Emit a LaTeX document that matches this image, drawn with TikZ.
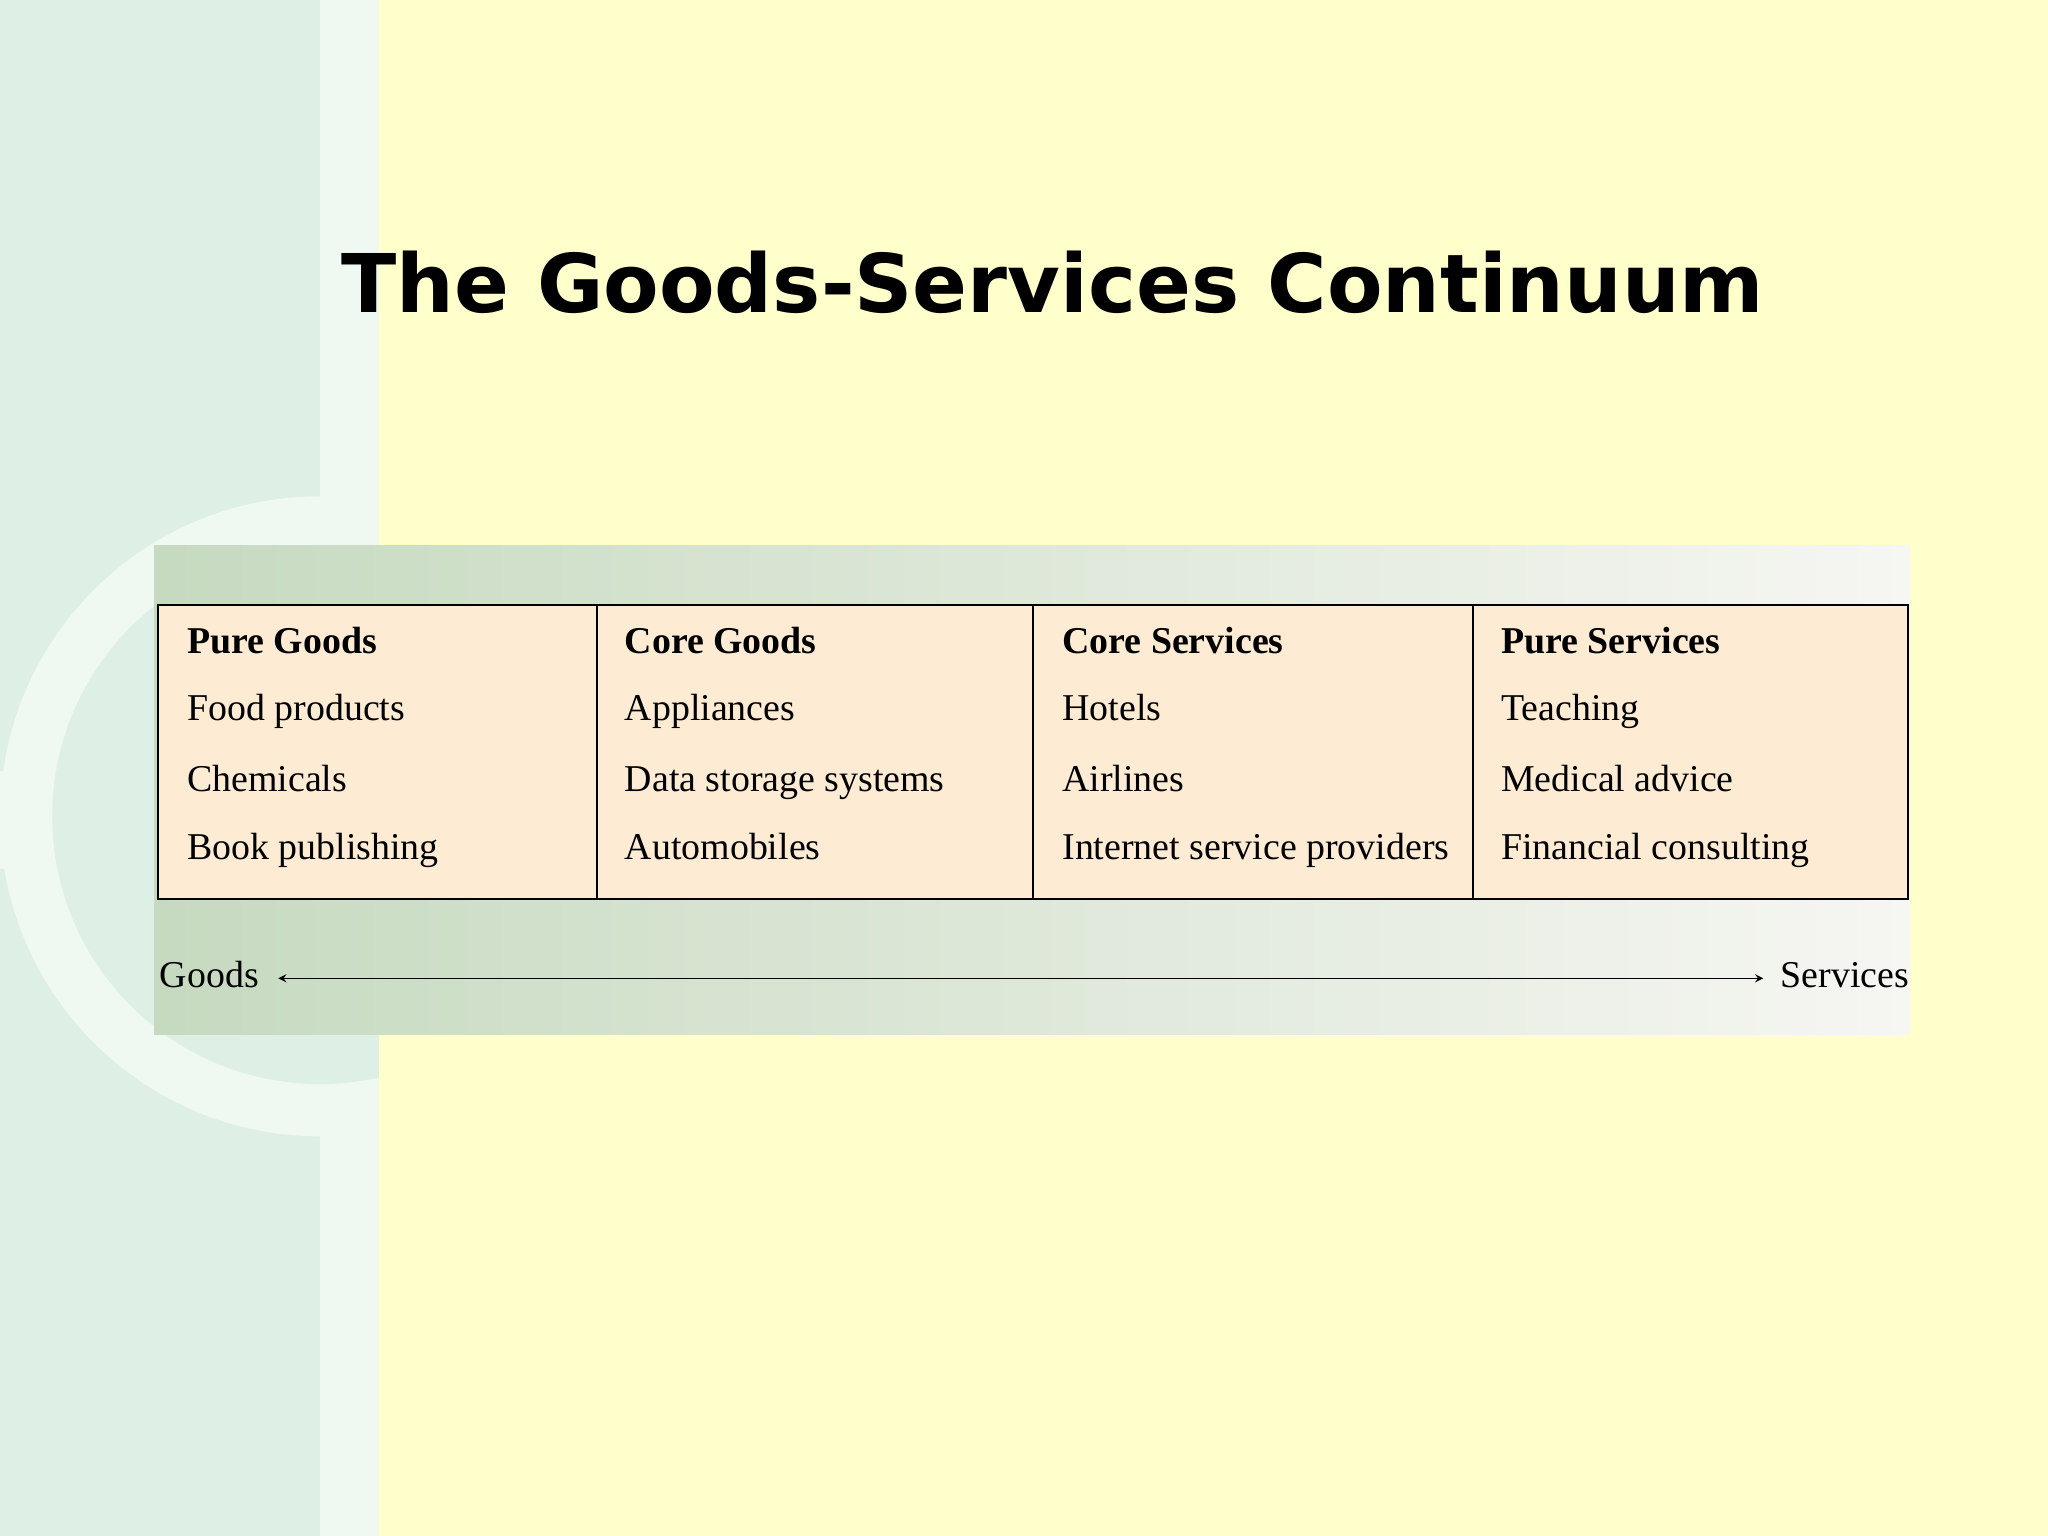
\documentclass[tikz,border=0pt]{standalone}
\usepackage{fontspec}
\setmainfont{Liberation Serif}
\newfontfamily\titlefont{DejaVu Sans}
\begin{document}
\begin{tikzpicture}[x=0.5pt,y=-0.5pt,
  cell/.style={anchor=base west,font=\fontsize{14.5}{16}\selectfont,inner sep=0pt},
  head/.style={cell,font=\fontsize{14.5}{16}\selectfont\bfseries}]
\definecolor{bgy}{HTML}{FFFFCC}
\definecolor{bgg}{HTML}{DEEFE6}
\definecolor{bgl}{HTML}{F0F8F2}
\definecolor{peach}{HTML}{FDEBD3}
\definecolor{panL}{HTML}{C6DAC0}
\definecolor{panR}{HTML}{F6F6F2}
\fill[bgy] (0,0) rectangle (1568,1176);
\fill[bgg] (0,0) rectangle (245,1176);
\fill[bgl] (245,0) rectangle (290,1176);
\begin{scope}
\clip (0,0) rectangle (290,1176);
\fill[bgl] (245,625) circle (245);
\fill[bgg] (245,625) circle (205);
\fill[bgl] (0,590) rectangle (40,665);
\end{scope}
\node[font=\titlefont\fontsize{31}{36}\selectfont\bfseries] (title) at (806,216) {The Goods-Services Continuum};
\shade[left color=panL,right color=panR] (118,418) rectangle (1462,792);
\draw[thick,fill=peach] (121,463) rectangle (1461,688);
\foreach \x in {457,791,1128} \draw[thick] (\x,463) -- (\x,688);
\node[head] (h1) at (143,500) {Pure Goods};
\node[cell] at (143,552) {Food products};
\node[cell] at (143,606) {Chemicals};
\node[cell] at (143,658) {Book publishing};
\node[head] (h2) at (478,500) {Core Goods};
\node[cell] at (478,552) {Appliances};
\node[cell] at (478,606) {Data storage systems};
\node[cell] at (478,658) {Automobiles};
\node[head] (h3) at (813,500) {Core Services};
\node[cell] at (813,552) {Hotels};
\node[cell] at (813,606) {Airlines};
\node[cell] at (813,658) {Internet service providers};
\node[head] (h4) at (1149,500) {Pure Services};
\node[cell] at (1149,552) {Teaching};
\node[cell] at (1149,606) {Medical advice};
\node[cell] at (1149,658) {Financial consulting};
\node[cell] (g) at (122,756) {Goods};
\node[cell,anchor=base east] (s) at (1462,756) {Services};
\coordinate (a1) at (213,749);
\coordinate (a2) at (1350,749);
\draw[<->,>=stealth] (a1) -- (a2);
\end{tikzpicture}
\end{document}
